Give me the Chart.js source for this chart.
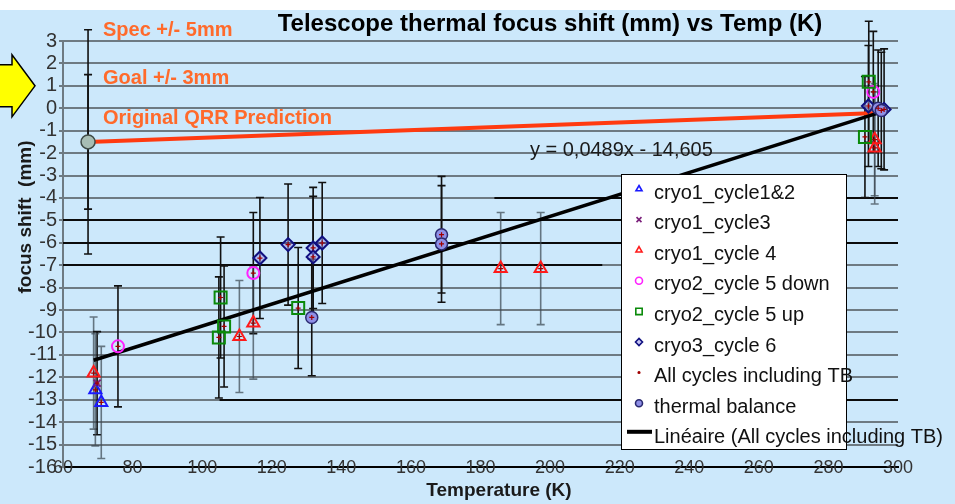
<!DOCTYPE html>
<html>
<head>
<meta charset="utf-8">
<script src="https://cdn.jsdelivr.net/npm/chart.js@4.4.1/dist/chart.umd.min.js"></script>
<style>
  html, body { margin: 0; padding: 0; background: #fff; }
  canvas { display: block; }
</style>
</head>
<body>
<canvas id="focus" width="955" height="504"></canvas>
<script>
// ---- measured focus shift (mm) against telescope temperature (K) ----
const cycle12Temp  = [69.3, 71.0];
const cycle12Shift = [-12.56, -13.12];
const cycle12Err   = [2.5, 2.5];

const cycle3Temp  = [69.8];
const cycle3Shift = [-12.26];
const cycle3Err   = [2.3];

const cycle4Temp  = [68.8, 110.7, 114.7, 185.8, 197.3, 293.3, 293.3];
const cycle4Shift = [-11.81, -10.18, -9.58, -7.15, -7.15, -1.40, -1.77];
const cycle4Err   = [2.5, 2.5, 2.5, 2.5, 2.5, 2.5, 2.5];

const cycle5DownTemp  = [75.8, 114.7, 292.9];
const cycle5DownShift = [-10.62, -7.35, 0.73];
const cycle5DownErr   = [2.7, 2.7, 2.7];

const cycle5UpTemp  = [104.8, 105.3, 106.3, 127.6, 290.5, 291.6];
const cycle5UpShift = [-10.22, -8.44, -9.73, -8.91, -1.28, 1.18];
const cycle5UpErr   = [2.7, 2.7, 2.7, 2.7, 2.7, 2.7];

const cycle6Temp  = [116.6, 124.7, 131.9, 131.9, 134.5, 291.5, 296.0];
const cycle6Shift = [-6.68, -6.08, -6.23, -6.63, -6.01, 0.10, -0.05];
const cycle6Err   = [2.7, 2.7, 2.7, 2.7, 2.7, 2.7, 2.7];

const balanceTemp  = [131.5, 168.8, 168.8, 294.3, 295.2];
const balanceShift = [-9.33, -5.64, -6.05, 0.00, -0.10];
const balanceErr   = [2.6, 2.6, 2.6, 2.6, 2.6];

// original QRR prediction line and its tolerance bars
const qrrTemp  = [67.2, 296];
const qrrShift = [-1.5, -0.2];
const specTol = 5;
const goalTol = 3;

// linear fit of all cycles (including thermal balance)
const fitSlope = 0.0489;
const fitIntercept = -14.605;
const fitLabel = 'y = 0,0489x - 14,605';

// long horizontal bars crossing the plot: [shift, from temp, to temp]
const crossBars = [
  [-4, 184, 300],
  [-5, 60, 300],
  [-6, 60, 300],
  [-7, 60, 215],
  [-13, 105, 300]
];

// axis ticks
const tempMin = 60, tempMax = 300, tempStep = 20;
const shiftMin = -16, shiftMax = 3, shiftStep = 1;

const seriesNames = [
  'cryo1_cycle1&2', 'cryo1_cycle3', 'cryo1_cycle 4', 'cryo2_cycle 5 down',
  'cryo2_cycle 5 up', 'cryo3_cycle 6', 'All cycles including TB',
  'thermal balance', 'Linéaire (All cycles including TB)'
];

// ---------------------------------------------------------------------
const pts = (xs, ys) => xs.map((x, i) => ({ x: x, y: ys[i] }));
const FONT = "'Liberation Sans', Arial, sans-serif";
Chart.defaults.font.family = FONT;

const allTemp  = [].concat(cycle12Temp, cycle3Temp, cycle4Temp, cycle5DownTemp, cycle5UpTemp, cycle6Temp, balanceTemp);
const allShift = [].concat(cycle12Shift, cycle3Shift, cycle4Shift, cycle5DownShift, cycle5UpShift, cycle6Shift, balanceShift);
const fitFrom = Math.min.apply(null, allTemp);
const fitTo = Math.max.apply(null, allTemp);

const GREY_BAR = 'rgba(60,72,82,0.72)';
const BLACK_BAR = '#111';

function marker(label, xs, ys, errs, style, opts) {
  return Object.assign({
    label: label,
    data: pts(xs, ys),
    yErr: errs,
    showLine: false,
    pointStyle: style,
    pointRadius: 6,
    pointHoverRadius: 6,
    pointBorderWidth: 2,
    pointBackgroundColor: 'rgba(0,0,0,0)'
  }, opts);
}

const datasets = [
  marker(seriesNames[6], allTemp, allShift, null, 'cross',
    { pointRadius: 2.5, pointBorderWidth: 1.2, pointBorderColor: '#A00000', order: 0 }),
  marker(seriesNames[7], balanceTemp, balanceShift, balanceErr, 'circle',
    { pointRadius: 6, pointBorderWidth: 1.5, pointBorderColor: '#2A2A70', pointBackgroundColor: '#8F8FE6', barColor: BLACK_BAR, order: 1 }),
  marker(seriesNames[5], cycle6Temp, cycle6Shift, cycle6Err, 'rectRot',
    { pointRadius: 6.5, pointBorderWidth: 2, pointBorderColor: '#101080', pointBackgroundColor: 'rgba(150,150,235,0.55)', barColor: BLACK_BAR, order: 2 }),
  marker(seriesNames[4], cycle5UpTemp, cycle5UpShift, cycle5UpErr, 'rect',
    { pointRadius: 8.5, pointBorderWidth: 2, pointBorderColor: '#0A8A0A', barColor: BLACK_BAR, order: 3 }),
  marker(seriesNames[3], cycle5DownTemp, cycle5DownShift, cycle5DownErr, 'circle',
    { pointRadius: 6, pointBorderWidth: 2, pointBorderColor: '#FF22FF', barColor: BLACK_BAR, order: 4 }),
  marker(seriesNames[2], cycle4Temp, cycle4Shift, cycle4Err, 'triangle',
    { pointRadius: 7, pointBorderWidth: 2, pointBorderColor: '#FF1A1A', barColor: GREY_BAR, order: 5 }),
  marker(seriesNames[1], cycle3Temp, cycle3Shift, cycle3Err, 'crossRot',
    { pointRadius: 5, pointBorderWidth: 2, pointBorderColor: '#7A1F7A', barColor: BLACK_BAR, order: 6 }),
  marker(seriesNames[0], cycle12Temp, cycle12Shift, cycle12Err, 'triangle',
    { pointRadius: 7, pointBorderWidth: 2, pointBorderColor: '#1A1AFF', barColor: GREY_BAR, order: 7 }),
  {
    label: seriesNames[8],
    data: [{ x: fitFrom, y: fitSlope * fitFrom + fitIntercept }, { x: fitTo, y: fitSlope * fitTo + fitIntercept }],
    showLine: true, borderColor: '#000', borderWidth: 3.5, pointRadius: 0, order: 8
  },
  {
    label: 'QRR point',
    data: pts(qrrTemp.slice(0, 1), qrrShift.slice(0, 1)),
    qrrBars: [specTol, goalTol],
    showLine: false, pointStyle: 'circle', pointRadius: 7, pointBorderWidth: 1.5,
    pointBorderColor: '#3E4A46', pointBackgroundColor: '#A7BDB4', order: 9
  },
  {
    label: 'Original QRR Prediction',
    data: pts(qrrTemp, qrrShift),
    showLine: true, borderColor: '#FF3A10', borderWidth: 4, pointRadius: 0, order: 10
  }
];

function drawCapBar(ctx, x, yTop, yBot, cap) {
  ctx.beginPath();
  ctx.moveTo(x, yTop); ctx.lineTo(x, yBot);
  ctx.moveTo(x - cap, yTop); ctx.lineTo(x + cap, yTop);
  ctx.moveTo(x - cap, yBot); ctx.lineTo(x + cap, yBot);
  ctx.stroke();
}

const focusDecor = {
  id: 'focusDecor',
  beforeDraw(chart) {
    const { ctx, width, height } = chart;
    ctx.save();
    ctx.fillStyle = '#ffffff';
    ctx.fillRect(0, 0, width, height);
    ctx.fillStyle = '#CCE8FB';
    ctx.fillRect(0, 10, width, height - 10);
    ctx.restore();
  },
  beforeDatasetsDraw(chart) {
    const { ctx } = chart;
    const xs = chart.scales.x, ys = chart.scales.y;
    ctx.save();
    // long horizontal bars
    ctx.strokeStyle = '#0b0b0b';
    ctx.lineWidth = 2;
    crossBars.forEach(b => {
      const y = Math.round(ys.getPixelForValue(b[0]));
      ctx.beginPath();
      ctx.moveTo(xs.getPixelForValue(b[1]), y);
      ctx.lineTo(xs.getPixelForValue(b[2]), y);
      ctx.stroke();
    });
    // vertical error bars
    chart.data.datasets.forEach((ds, di) => {
      const meta = chart.getDatasetMeta(di);
      if (ds.yErr) {
        ctx.strokeStyle = ds.barColor || BLACK_BAR;
        ctx.lineWidth = 1.6;
        ds.data.forEach((p, i) => {
          const x = meta.data[i].x;
          drawCapBar(ctx, x, ys.getPixelForValue(p.y + ds.yErr[i]), ys.getPixelForValue(p.y - ds.yErr[i]), 4);
        });
      }
      if (ds.qrrBars) {
        const p = ds.data[0];
        const x = meta.data[0].x;
        ctx.strokeStyle = '#111';
        ctx.lineWidth = 1.6;
        ds.qrrBars.forEach(t => {
          drawCapBar(ctx, x, ys.getPixelForValue(p.y + t), ys.getPixelForValue(p.y - t), 4);
        });
      }
    });
    ctx.restore();
  },
  afterDraw(chart) {
    const { ctx } = chart;
    const xs = chart.scales.x, ys = chart.scales.y;
    const area = chart.chartArea;
    ctx.save();

    // title
    ctx.fillStyle = '#000';
    ctx.font = 'bold 24px ' + FONT;
    ctx.textAlign = 'center';
    ctx.textBaseline = 'middle';
    ctx.fillText('Telescope thermal focus shift (mm) vs Temp (K)', 550, 24);

    // axis titles
    ctx.fillStyle = '#1a1a1a';
    ctx.font = 'bold 19px ' + FONT;
    ctx.fillText('Temperature (K)', 499, 491);
    ctx.save();
    ctx.translate(26, 217);
    ctx.rotate(-Math.PI / 2);
    ctx.fillText('focus shift  (mm)', 0, 0);
    ctx.restore();

    // tolerance / prediction notes
    ctx.fillStyle = '#FF6A2B';
    ctx.font = 'bold 20px ' + FONT;
    ctx.textAlign = 'left';
    const noteX = xs.getPixelForValue(71.5);
    ctx.fillText('Spec +/- 5mm', noteX, ys.getPixelForValue(3.45));
    ctx.fillText('Goal +/- 3mm', noteX, ys.getPixelForValue(1.35));
    ctx.fillText('Original QRR Prediction', noteX, ys.getPixelForValue(-0.47));

    // fit equation
    ctx.fillStyle = '#1a1a1a';
    ctx.font = '20px ' + FONT;
    ctx.textBaseline = 'alphabetic';
    ctx.fillText(fitLabel, xs.getPixelForValue(194.2), ys.getPixelForValue(-2.15));

    // yellow pointer on the left margin
    const cy = ys.getPixelForValue(1);
    ctx.beginPath();
    ctx.moveTo(-2, cy - 21);
    ctx.lineTo(12, cy - 21);
    ctx.lineTo(12, cy - 31);
    ctx.lineTo(35, cy);
    ctx.lineTo(12, cy + 31);
    ctx.lineTo(12, cy + 21);
    ctx.lineTo(-2, cy + 21);
    ctx.closePath();
    ctx.fillStyle = '#FFFF00';
    ctx.fill();
    ctx.strokeStyle = '#000';
    ctx.lineWidth = 1.5;
    ctx.stroke();

    // legend box
    const bx = area.left + 558, by = area.top + 133, bw = 225, bh = 275;
    ctx.fillStyle = '#fff';
    ctx.fillRect(bx, by, bw, bh);
    ctx.strokeStyle = '#000';
    ctx.lineWidth = 1;
    ctx.strokeRect(bx + 0.5, by + 0.5, bw, bh);

    const legendSets = [7, 6, 5, 4, 3, 2, 0, 1];
    ctx.font = '20px ' + FONT;
    ctx.textAlign = 'left';
    ctx.textBaseline = 'middle';
    legendSets.forEach((di, row) => {
      const ds = chart.data.datasets[di];
      const ty = by + 19 + row * 30.6;
      ctx.save();
      ctx.strokeStyle = ds.pointBorderColor;
      ctx.fillStyle = ds.pointBackgroundColor;
      ctx.lineWidth = 1.6;
      const r = ds.pointStyle === 'rect' ? 4.5 : (ds.pointStyle === 'cross' ? 1.5 : 3.5);
      Chart.helpers.drawPoint(ctx, { pointStyle: ds.pointStyle, radius: r, borderWidth: 1.6, rotation: 0 }, bx + 18, ty - 4);
      ctx.restore();
      ctx.fillStyle = '#111';
      ctx.fillText(ds.label, bx + 33, ty);
    });
    const ly = by + 19 + 8 * 30.6;
    ctx.strokeStyle = '#000';
    ctx.lineWidth = 4;
    ctx.beginPath();
    ctx.moveTo(bx + 6, ly - 6);
    ctx.lineTo(bx + 31, ly - 6);
    ctx.stroke();
    ctx.fillStyle = '#111';
    ctx.fillText(chart.data.datasets[8].label, bx + 33, ly);

    ctx.restore();
  }
};

new Chart(document.getElementById('focus'), {
  type: 'scatter',
  data: { datasets: datasets },
  options: {
    responsive: false,
    animation: false,
    events: [],
    layout: { padding: { top: 41, right: 57, left: 0, bottom: 0 } },
    plugins: { legend: { display: false }, title: { display: false }, tooltip: { enabled: false } },
    scales: {
      x: {
        type: 'linear',
        min: tempMin, max: tempMax,
        afterFit(s) { s.height = 37; },
        grid: { display: false, drawTicks: false },
        border: { display: true, color: '#000', width: 2 },
        ticks: {
          stepSize: tempStep, autoSkip: false, maxRotation: 0,
          mirror: true, padding: -12, color: '#333', font: { size: 18 }
        }
      },
      y: {
        type: 'linear',
        min: shiftMin, max: shiftMax,
        afterFit(s) { s.width = 63; },
        grid: {
          color: '#6E7A82', lineWidth: 2, drawTicks: true, tickLength: 4
        },
        border: { display: true, color: '#6E7A82', width: 2 },
        ticks: {
          stepSize: shiftStep, autoSkip: false, padding: 2,
          color: '#333', font: { size: 20, family: "'Liberation Sans Narrow', 'Arial Narrow', " + FONT }
        }
      }
    }
  },
  plugins: [focusDecor]
});
</script>
</body>
</html>
